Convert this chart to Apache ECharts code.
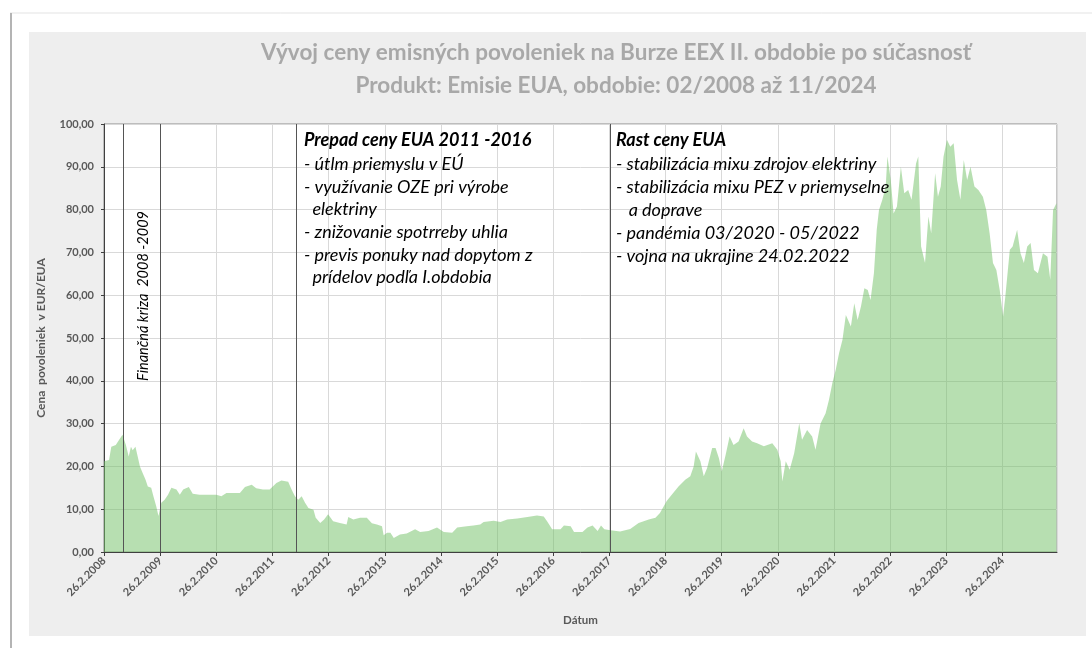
<!DOCTYPE html>
<html>
<head>
<meta charset="utf-8">
<title>Vývoj ceny emisných povoleniek</title>
<script src="https://cdn.jsdelivr.net/npm/echarts@6/dist/echarts.min.js"></script>
<style>
  html, body { margin: 0; padding: 0; background: #fff; }
  #chart { width: 1092px; height: 648px; }
</style>
</head>
<body>
<div id="chart"></div>
<script>
// x = roky od 26.2.2008, y = cena EUR/EUA (odčítané z grafu)
const yearsFromStart = [
  0, 0.09, 0.13, 0.21, 0.27, 0.33, 0.39, 0.44, 0.48, 0.51, 0.56, 0.60, 0.64, 0.69, 0.74, 0.78, 0.84, 0.88, 0.93, 0.97,
  1.02, 1.08, 1.14, 1.20, 1.29, 1.35, 1.41, 1.51, 1.58, 1.70, 2.00, 2.09, 2.18, 2.42, 2.51, 2.63, 2.71, 2.83, 2.95,
  3.07, 3.16, 3.28, 3.34, 3.40, 3.46, 3.52, 3.58, 3.64, 3.73, 3.77, 3.85, 3.92, 3.99,
  4.08, 4.20, 4.32, 4.35, 4.44, 4.56, 4.68, 4.77, 4.86, 4.95, 4.98,
  5.04, 5.10, 5.16, 5.27, 5.39, 5.54, 5.63, 5.78, 5.93,
  6.05, 6.20, 6.29, 6.46, 6.58, 6.70, 6.76, 6.94,
  7.06, 7.18, 7.36, 7.54, 7.71, 7.83, 7.89, 7.98,
  8.13, 8.19, 8.31, 8.37, 8.52, 8.61, 8.70, 8.79, 8.85, 8.91,
  9.02, 9.19, 9.37, 9.52, 9.70, 9.82, 9.90,
  10.02, 10.11, 10.23, 10.35, 10.44, 10.50, 10.54, 10.62, 10.68, 10.74, 10.83, 10.89, 10.95,
  11.00, 11.07, 11.14, 11.21, 11.30, 11.39, 11.45, 11.54, 11.63, 11.75, 11.90, 11.99,
  12.05, 12.08, 12.14, 12.21, 12.29, 12.38, 12.43, 12.52, 12.61, 12.67, 12.76, 12.85, 12.91, 12.97,
  13.03, 13.09, 13.15, 13.21, 13.30, 13.36, 13.42, 13.48, 13.54, 13.60, 13.65, 13.71, 13.76, 13.80, 13.86, 13.92, 13.95,
  14.01, 14.06, 14.12, 14.19, 14.25, 14.32, 14.38, 14.46, 14.50, 14.55, 14.62, 14.68, 14.73, 14.80, 14.85, 14.90, 14.95,
  15.01, 15.07, 15.13, 15.19, 15.25, 15.31, 15.37, 15.43, 15.50, 15.57, 15.65, 15.71, 15.77, 15.83, 15.89, 15.95,
  16.01, 16.05, 16.13, 16.18, 16.26, 16.32, 16.38, 16.44, 16.50, 16.56, 16.63, 16.72, 16.80, 16.85, 16.90, 16.96
];
const prices = [
  21.2, 21.5, 24.6, 25.0, 26.2, 27.4, 25.0, 22.3, 24.6, 23.8, 24.6, 22.3, 20.0, 18.4, 16.9, 15.3, 15.0, 13.0, 10.7, 8.4,
  11.5, 12.2, 13.4, 15.0, 14.6, 13.4, 14.6, 15.2, 13.6, 13.4, 13.4, 13.0, 13.8, 13.8, 15.2, 15.7, 14.9, 14.6, 14.6,
  16.1, 16.7, 16.4, 14.6, 13.0, 12.2, 13.0, 11.5, 10.3, 9.9, 8.0, 6.8, 7.6, 8.8,
  7.2, 6.8, 6.4, 8.2, 7.6, 8.0, 8.0, 6.7, 6.4, 6.0, 3.9,
  4.5, 4.5, 3.3, 4.1, 4.3, 5.3, 4.7, 4.9, 5.7,
  4.7, 4.5, 5.7, 6.0, 6.2, 6.4, 7.0, 7.3,
  7.0, 7.6, 7.8, 8.2, 8.5, 8.3, 7.2, 5.3,
  5.3, 6.2, 6.0, 4.7, 4.7, 5.7, 6.2, 4.9, 6.2, 5.3,
  5.1, 4.8, 5.4, 6.8, 7.6, 8.0, 9.1,
  11.9, 13.4, 15.3, 16.9, 17.7, 20.0, 23.5, 21.2, 17.7, 19.6, 24.3, 24.3, 21.9,
  18.8, 22.7, 27.0, 25.0, 25.8, 28.9, 27.0, 25.8, 25.4, 24.7, 25.4, 23.9,
  21.2, 16.5, 21.2, 19.2, 23.1, 30.1, 26.2, 28.5, 27.0, 23.9, 30.0, 32.4, 35.6, 39.5,
  42.6, 46.5, 49.6, 55.4, 52.7, 58.1, 54.2, 57.4, 61.6, 61.2, 58.9, 65.1, 75.3, 79.9, 82.3, 85.4, 92.4,
  86.9, 79.1, 80.7, 90.0, 83.8, 84.6, 82.3, 90.8, 92.4, 71.4, 67.5, 78.4, 74.5, 88.5, 83.0, 85.4, 92.4,
  96.3, 94.7, 95.5, 86.9, 82.3, 91.6, 86.9, 90.0, 85.4, 84.6, 83.0, 79.9, 74.5, 67.5, 65.9, 61.2,
  55.0, 59.7, 70.6, 71.4, 75.3, 69.8, 67.5, 71.4, 72.2, 65.9, 65.1, 69.8, 69.0, 63.6, 79.9, 81.5
];
// zvislé deliace čiary (roky od 26.2.2008)
const eventLines = [0.34, 1.0, 3.42, 9.02];
const axisEnd = 16.97;

const titleLines = [
  'Vývoj ceny emisných povoleniek na Burze EEX II. obdobie po súčasnosť',
  'Produkt: Emisie EUA, obdobie: 02/2008 až 11/2024'
];
const noteFall = [
  '- útlm priemyslu v EÚ',
  '- využívanie OZE pri výrobe',
  '  elektriny',
  '- znižovanie spotrreby uhlia',
  '- previs ponuky nad dopytom z',
  '  prídelov podľa I.obdobia'
];
const noteRise = [
  '- stabilizácia mixu zdrojov elektriny',
  '- stabilizácia mixu PEZ v priemyselne',
  '   a doprave',
  '- pandémia 03/2020 - 05/2022',
  '- vojna na ukrajine 24.02.2022'
];

const font = 'Lato, "Open Sans", sans-serif';
const labelGray = '#595959';

const chart = echarts.init(document.getElementById('chart'));

const option = {
  animation: false,
  backgroundColor: '#ffffff',
  textStyle: { fontFamily: font },
  title: {
    text: titleLines.join('\n'),
    left: 611,
    top: 31,
    textAlign: 'center',
    textStyle: {
      fontFamily: font, fontSize: 22.5, fontWeight: 'bold', color: '#a8a8a8', lineHeight: 33
    }
  },
  grid: {
    left: 104, top: 124, right: 35, bottom: 96,
    show: true, backgroundColor: '#ffffff', borderColor: '#8c8c8c', borderWidth: 1
  },
  xAxis: {
    type: 'value',
    min: 0, max: axisEnd, interval: 1,
    name: 'Dátum', nameLocation: 'middle', nameGap: 62,
    nameTextStyle: { fontFamily: font, fontSize: 11.5, fontWeight: 'bold', color: labelGray },
    axisLine: { show: true, lineStyle: { color: '#404040', width: 1 } },
    axisTick: { show: true, length: 4, lineStyle: { color: '#404040' } },
    splitLine: { show: true, lineStyle: { color: '#d9d9d9', width: 1 } },
    axisLabel: {
      rotate: 45, margin: 7, fontSize: 11, fontWeight: 'bold', color: labelGray, fontFamily: font,
      showMaxLabel: false,
      formatter: v => Math.abs(v - Math.round(v)) < 1e-6 ? '26.2.' + (2008 + Math.round(v)) : ''
    }
  },
  yAxis: {
    type: 'value',
    min: 0, max: 100, interval: 10,
    name: 'Cena  povoleniek  v EUR/EUA', nameLocation: 'middle', nameGap: 57,
    nameTextStyle: { fontFamily: font, fontSize: 12, fontWeight: 'bold', color: labelGray },
    axisLine: { show: true, lineStyle: { color: '#404040', width: 1 } },
    axisTick: { show: true, length: 3, lineStyle: { color: '#404040' } },
    splitLine: { show: true, lineStyle: { color: '#d9d9d9', width: 1 } },
    axisLabel: {
      margin: 10, fontSize: 11, fontWeight: 'bold', color: labelGray, fontFamily: font,
      formatter: v => v.toFixed(2).replace('.', ',')
    }
  },
  series: [{
    type: 'line',
    data: yearsFromStart.map((t, i) => [t, prices[i]]),
    showSymbol: false,
    lineStyle: { width: 0, opacity: 0 },
    areaStyle: { color: 'rgba(112,192,100,0.5)', opacity: 1 },
    markLine: {
      silent: true,
      symbol: 'none',
      label: { show: false },
      lineStyle: { color: '#555555', width: 1, type: 'solid' },
      data: eventLines.map(x => ({ xAxis: x }))
    }
  }],
  graphic: [
    // podklad a rám
    { type: 'rect', z: -100, silent: true, shape: { x: 29, y: 32, width: 1057, height: 604 }, style: { fill: '#eeeeee' } },
    { type: 'line', z: -100, silent: true, shape: { x1: 10, y1: 13, x2: 1092, y2: 13 }, style: { stroke: '#e3e3e3', lineWidth: 1 } },
    { type: 'line', z: -100, silent: true, shape: { x1: 11, y1: 13, x2: 11, y2: 648 }, style: { stroke: '#b4b4b4', lineWidth: 2 } },
    // poznámky
    {
      type: 'text', z: 100, silent: true, x: 304, y: 131,
      style: { text: 'Prepad ceny EUA 2011 -2016', font: 'italic bold 18px ' + font, fill: '#000' }
    },
    {
      type: 'text', z: 100, silent: true, x: 304, y: 153,
      style: { text: noteFall.join('\n'), font: 'italic 18px ' + font, fill: '#000', lineHeight: 22.6 }
    },
    {
      type: 'text', z: 100, silent: true, x: 616, y: 131,
      style: { text: 'Rast ceny EUA', font: 'italic bold 18px ' + font, fill: '#000' }
    },
    {
      type: 'text', z: 100, silent: true, x: 616, y: 153,
      style: { text: noteRise.join('\n'), font: 'italic 18px ' + font, fill: '#000', lineHeight: 23 }
    },
    {
      type: 'text', z: 100, silent: true, x: 143, y: 296, rotation: Math.PI / 2,
      style: {
        text: 'Finančná kriza  2008 -2009', font: 'italic 14.5px ' + font, fill: '#000',
        align: 'center', verticalAlign: 'middle'
      }
    }
  ]
};

chart.setOption(option);
</script>
</body>
</html>
